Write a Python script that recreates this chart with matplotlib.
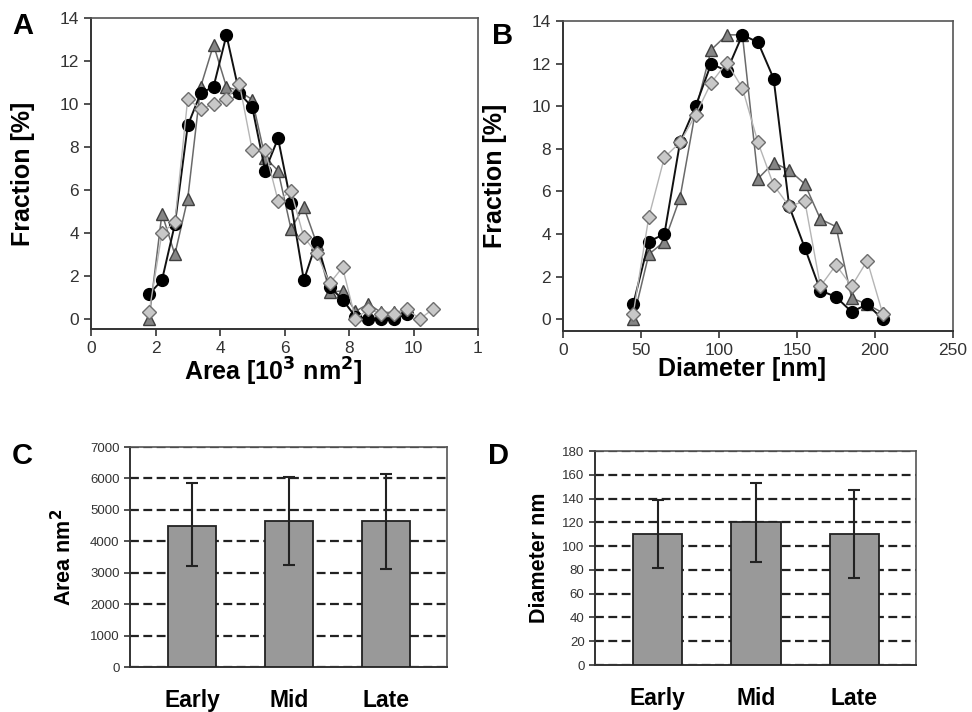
import matplotlib.pyplot as plt

plt.rcParams['font.family'] = ['Liberation Sans', 'DejaVu Sans']

# panel A: size distribution by area (10^3 nm^2)
area_x = [1.8, 2.2, 2.6, 3.0, 3.4, 3.8, 4.2, 4.6, 5.0, 5.4, 5.8, 6.2, 6.6, 7.0, 7.4,
          7.8, 8.2, 8.6, 9.0, 9.4, 9.8, 10.2, 10.6]
area_circ = [1.15, 1.8, 4.4, 9.0, 10.5, 10.8, 13.2, 10.5, 9.85, 6.9, 8.4, 5.4, 1.8, 3.6,
             1.5, 0.9, 0.1, 0.0, 0.0, 0.0, 0.25]
area_tri = [0.0, 4.9, 3.0, 5.6, 10.8, 12.75, 10.8, 10.6, 10.2, 7.5, 6.9, 4.2, 5.2, 3.5,
            1.25, 1.3, 0.35, 0.7, 0.3, 0.3, 0.4]
area_dia = [0.3, 4.0, 4.5, 10.25, 9.75, 10.0, 10.25, 10.95, 7.85, 7.85, 5.5, 5.95, 3.8, 3.05,
            1.65, 2.4, 0.0, 0.45, 0.25, 0.25, 0.45, 0.0, 0.45]

# panel B: size distribution by diameter (nm)
diam_x = [45, 55, 65, 75, 85, 95, 105, 115, 125, 135, 145, 155, 165, 175, 185, 195, 205]
diam_circ = [0.7, 3.65, 4.0, 8.3, 10.0, 12.0, 11.65, 13.35, 13.0, 11.3, 5.3, 3.35, 1.35,
             1.05, 0.35, 0.7, 0.0]
diam_tri = [0.0, 3.05, 3.65, 5.7, 9.8, 12.65, 13.35, 13.35, 6.6, 7.35, 7.0, 6.35, 4.7,
            4.35, 1.0, 0.7, 0.3]
diam_dia = [0.25, 4.8, 7.6, 8.3, 9.6, 11.1, 12.05, 10.85, 8.3, 6.3, 5.3, 5.55, 1.55, 2.55,
            1.55, 2.75, 0.25]

# panels C and D: means with error bars
stages = ['Early', 'Mid', 'Late']
area_mean = [4500, 4630, 4630]
area_lo = [3200, 3230, 3110]
area_hi = [5840, 6050, 6130]
diam_mean = [110, 120, 110]
diam_lo = [82, 87, 73]
diam_hi = [138.5, 153, 147.5]

W, H = 972, 712


def px_axes(fig, left, top, right, bottom):
    return fig.add_axes([left / W, 1 - bottom / H, (right - left) / W, (bottom - top) / H])


def style_box(ax):
    for s in ['left', 'bottom']:
        ax.spines[s].set_color('#333333')
        ax.spines[s].set_linewidth(1.4)
    for s in ['top', 'right']:
        ax.spines[s].set_color('#555555')
        ax.spines[s].set_linewidth(1.2)


def draw_dist(ax, x, circ, tri, dia):
    ax.plot(x[:len(tri)], tri, '-^', color='#6a6a6a', lw=1.1, ms=8.5,
            mfc='#858585', mec='#404040', mew=1, zorder=3)
    ax.plot(x[:len(circ)], circ, '-o', color='#111111', lw=1.4, ms=8.5,
            mfc='black', mec='black', zorder=4)
    ax.plot(x[:len(dia)], dia, '-D', color='#b5b5b5', lw=1.0, ms=7.5,
            mfc='#c8c8c8', mec='#6e6e6e', mew=1, zorder=5)
    ax.set_yticks(range(0, 15, 2))
    ax.tick_params(direction='out', length=5, width=1.2, labelsize=12.5,
                   labelcolor='#333333', color='#333333')
    ax.set_ylabel('Fraction [%]', fontsize=18, fontweight='bold')
    style_box(ax)


def draw_bars(ax, means, lo, hi, top, step, label):
    xs = range(len(stages))
    err = [[m - l for m, l in zip(means, lo)], [h - m for m, h in zip(means, hi)]]
    ax.bar(xs, means, width=0.5, color='#999999', edgecolor='#222222', lw=1.3,
           yerr=err, capsize=4.5,
           error_kw=dict(ecolor='#222222', elinewidth=1.5, capthick=1.5), zorder=3)
    ax.set_xlim(-0.64, 2.63)
    ax.set_ylim(0, top)
    ax.set_yticks(range(0, top + 1, step))
    ax.yaxis.grid(True, ls=(0, (4, 2)), color='#222222', lw=1.6)
    ax.set_axisbelow(True)
    ax.set_xticks(list(xs))
    ax.set_xticklabels(stages, fontsize=16.5, fontweight='bold')
    ax.tick_params(axis='x', length=0, pad=16)
    ax.tick_params(axis='y', direction='out', length=4, width=1.2, labelsize=9.5,
                   labelcolor='#333333', color='#333333')
    ax.set_ylabel(label, fontsize=15.5, fontweight='bold')
    style_box(ax)


fig = plt.figure(figsize=(W / 100, H / 100), dpi=100)

axA = px_axes(fig, 91, 18, 478, 329)
draw_dist(axA, area_x, area_circ, area_tri, area_dia)
axA.set_xlim(0, 12)
axA.set_ylim(-0.47, 14)
axA.set_xticks(range(0, 13, 2))
axA.set_xticklabels(['0', '2', '4', '6', '8', '10', '1'])
axA.set_xlabel('Area [10$^\\mathbf{3}$ nm$^\\mathbf{2}$]', fontsize=18, fontweight='bold')
axA.xaxis.set_label_coords(0.47, -0.085)
axA.yaxis.set_label_coords(-0.145, 0.5)

axB = px_axes(fig, 563, 21, 953, 331)
draw_dist(axB, diam_x, diam_circ, diam_tri, diam_dia)
axB.set_xlim(0, 250)
axB.set_ylim(-0.55, 14)
axB.set_xticks(range(0, 251, 50))
axB.set_xlabel('Diameter [nm]', fontsize=18, fontweight='bold')
axB.xaxis.set_label_coords(0.46, -0.085)
axB.yaxis.set_label_coords(-0.144, 0.5)

axC = px_axes(fig, 130, 447, 447, 667)
draw_bars(axC, area_mean, area_lo, area_hi, 7000, 1000, 'Area nm$^\\mathbf{2}$')
axC.yaxis.set_label_coords(-0.17, 0.5)

axD = px_axes(fig, 595, 451, 916, 665)
draw_bars(axD, diam_mean, diam_lo, diam_hi, 180, 20, 'Diameter nm')
axD.yaxis.set_label_coords(-0.14, 0.5)

for lbl, px, py in [('A', 12, 34), ('B', 492, 44), ('C', 12, 464), ('D', 488, 464)]:
    fig.text(px / W, 1 - py / H, lbl, fontsize=21, fontweight='bold', ha='left', va='baseline')

fig.savefig('out.png', dpi=100)
